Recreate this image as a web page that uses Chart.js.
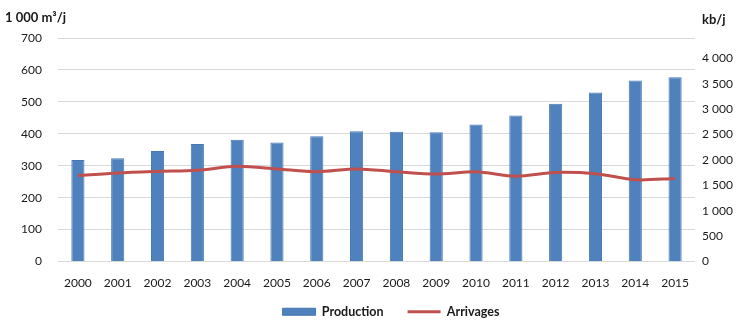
<!doctype html>
<html>
<head>
	<meta charset="utf-8">
	<title>Production et arrivages</title>
	<script src="https://cdn.jsdelivr.net/npm/chart.js@4.4.1"></script>
	<style>
	* { margin: 0; padding: 0; }
	body { background: #fff; }
	.chartBox { width: 740px; height: 328px; }
	</style>
</head>
<body>
	<div class="chartBox">
		<canvas id="canvas_combo"></canvas>
	</div>
<script type="text/javascript">
	var years = ['2000','2001','2002','2003','2004','2005','2006','2007','2008','2009','2010','2011','2012','2013','2014','2015'];
	// 1 000 m3/j
	var production = [318, 323, 346, 368, 381, 373, 392, 408, 406, 405, 429, 457, 494, 529, 567, 577];
	var arrivages = [269, 277, 282, 286, 298, 290, 281, 290, 281, 274, 281, 267, 279, 275, 256, 260];
	var leftMax = 700, leftStep = 100;
	// kb/j : 1 000 m3/j x 6.29
	var rightMax = 4403;
	var rightTicks = [0, 500, 1000, 1500, 2000, 2500, 3000, 3500, 4000];

	var fontName = 'Lato, "Open Sans", sans-serif';

	function spaced(v) {
		return String(v).replace(/\B(?=(\d{3})+(?!\d))/g, ' ');
	}

	// unit titles above both axes + small layout tweaks
	var unitTitles = {
		id: 'unitTitles',
		afterLayout: function(chart) {
			// legend sits a bit right of centre in the original
			chart.legend.left += 21;
			chart.legend.right += 21;
			// let the year labels spill below the (short) x axis box
			chart.scales.x.bottom = chart.height;
		},
		afterDraw: function(chart) {
			var ctx = chart.ctx;
			ctx.save();
			ctx.font = 'bold 13px ' + fontName;
			ctx.fillStyle = '#1a1a1a';
			ctx.textBaseline = 'middle';
			ctx.textAlign = 'left';
			ctx.fillText('1 000 m³/j', 5, 18);
			ctx.fillText('kb/j', 702, 20);
			ctx.restore();
		}
	};

	var combo_config = {
		type: 'bar',
		data: {
			labels: years,
			datasets: [
			{
				label: 'Production',
				data: production,
				backgroundColor: '#4F81BD',
				borderColor: '#4677B3',
				borderWidth: 1,
				pointStyle: 'rect',
				barPercentage: 0.33,
				categoryPercentage: 1,
				yAxisID: 'y',
				order: 2,
			},
			{
				type: 'line',
				label: 'Arrivages',
				data: arrivages,
				borderColor: '#C0504D',
				backgroundColor: '#C0504D',
				borderWidth: 3,
				pointRadius: 0,
				pointStyle: 'line',
				tension: 0.3,
				fill: false,
				yAxisID: 'y',
				order: 1,
			}
			]
		},
		options: {
			responsive: true,
			maintainAspectRatio: false,
			animation: false,
			layout: {
				padding: { top: 38, left: 0, right: 0, bottom: 0 }
			},
			scales: {
				x: {
					grid: { display: false, drawTicks: false },
					border: { display: false },
					ticks: {
						color: '#1a1a1a',
						padding: 14,
						font: { family: fontName, size: 12 },
						maxRotation: 0,
					},
					afterFit: function(scale) { scale.height = 20; }
				},
				y: {
					position: 'left',
					min: 0,
					max: leftMax,
					grid: { color: '#D9D9D9', drawTicks: false },
					border: { display: false },
					ticks: {
						stepSize: leftStep,
						color: '#1a1a1a',
						padding: 16,
						font: { family: fontName, size: 12 },
						callback: function(value) { return spaced(value); }
					},
					afterFit: function(scale) { scale.width = 58; }
				},
				y2: {
					position: 'right',
					min: 0,
					max: rightMax,
					grid: { display: false, drawTicks: false },
					border: { display: false },
					afterBuildTicks: function(scale) {
						scale.ticks = rightTicks.map(function(v) { return { value: v }; });
					},
					ticks: {
						color: '#1a1a1a',
						padding: 7,
						font: { family: fontName, size: 12 },
						callback: function(value) { return spaced(value); }
					},
					afterFit: function(scale) { scale.width = 45; }
				}
			},
			plugins: {
				legend: {
					display: true,
					position: 'bottom',
					labels: {
						usePointStyle: true,
						pointStyleWidth: 33,
						boxHeight: 7,
						padding: 24,
						color: '#1a1a1a',
						font: { family: fontName, size: 12.5, weight: 'bold' },
						sort: function(a, b) { return a.datasetIndex - b.datasetIndex; }
					}
				},
				tooltip: { enabled: false },
			},
		},
		plugins: [unitTitles]
	};

	var combo_Chart = new Chart(document.getElementById('canvas_combo'), combo_config);
</script>
</body>
</html>
